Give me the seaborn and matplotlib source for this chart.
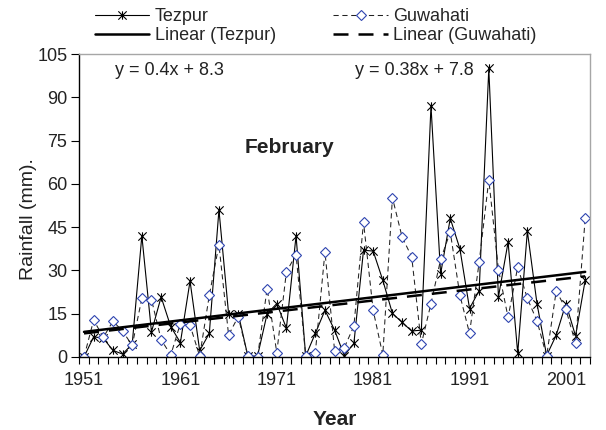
import numpy as np
import pandas as pd
import matplotlib
matplotlib.use("Agg")
import matplotlib.pyplot as plt
from matplotlib.path import Path
import seaborn as sns

# ---------------- data ----------------
years = list(range(1951, 2004))
tezpur = [0, 7, 6.5, 2.3, 1, 4.5, 42, 8.7, 20.8, 10.5,
          5, 26.3, 2.2, 8.2, 51, 15, 15, 0.3, 0.3, 15,
          18.5, 10, 42, 0.3, 8.2, 16.2, 9.3, 0.5, 4.7, 37,
          36.7, 26.6, 15.1, 12, 9, 9.3, 87, 28.8, 48, 37.5,
          16.8, 23, 100, 20.8, 39.8, 1.3, 43.6, 18.5, 0.5, 7.6,
          18.5, 7.3, 26.6]
guwahati = [0, 12.8, 6.8, 12.4, 9, 4, 20.3, 19.9, 6, 0.7,
            11.6, 11, 0.3, 21.4, 38.9, 7.6, 14, 0.3, 0, 23.7,
            1.5, 29.5, 35.5, 0.3, 1.5, 36.4, 2.2, 3.2, 10.7, 46.7,
            16.2, 0.7, 55.2, 41.6, 34.7, 4.5, 18.5, 33.8, 43.3, 21.4,
            8.2, 32.9, 61.4, 30.3, 13.7, 31.2, 20.3, 12.5, 0.3, 23,
            16.5, 4.7, 48]
tezpur_slope, tezpur_intercept = 0.4, 8.3
guwahati_slope, guwahati_intercept = 0.38, 7.8
y_ticks = [0, 15, 30, 45, 60, 75, 90, 105]
x_tick_years = [1951, 1961, 1971, 1981, 1991, 2001]
series_labels = ["Tezpur", "Guwahati", "Linear (Tezpur)", "Linear (Guwahati)"]

# ---------------- table ----------------
df = pd.DataFrame({"Year": years, "Tezpur": tezpur, "Guwahati": guwahati})
idx = np.arange(1, len(years) + 1)
df["TrendT"] = tezpur_slope * idx + tezpur_intercept
df["TrendG"] = guwahati_slope * idx + guwahati_intercept

sns.set_style("ticks")
plt.rcParams["font.family"] = ["Liberation Sans", "DejaVu Sans"]

fig = plt.figure(figsize=(6.06, 4.3), dpi=100)
ax = fig.add_axes([0.1307, 0.1698, 0.8429, 0.7046])

# Excel-like asterisk marker: X plus vertical bar
star = Path([(0, -1), (0, 1), (-1, -1), (1, 1), (-1, 1), (1, -1)],
            [Path.MOVETO, Path.LINETO] * 3)
blue = "#2f45b0"

sns.lineplot(data=df, x="Year", y="Tezpur", ax=ax, color="black", lw=0.8,
             marker=star, markersize=6, mec="black", mew=0.8,
             errorbar=None, label=series_labels[0], legend=False)
sns.lineplot(data=df, x="Year", y="Guwahati", ax=ax, color="#222222", lw=0.75,
             linestyle=(0, (5, 3.5)), marker="D", markersize=4.6,
             mfc="white", mec=blue, mew=0.8,
             errorbar=None, label=series_labels[1], legend=False)
sns.lineplot(data=df, x="Year", y="TrendT", ax=ax, color="black", lw=1.8,
             errorbar=None, label=series_labels[2], legend=False)
sns.lineplot(data=df, x="Year", y="TrendG", ax=ax, color="black", lw=1.8,
             linestyle=(0, (6, 4)),
             errorbar=None, label=series_labels[3], legend=False)

ax.set_xlim(1950.5, 2003.5)
ax.set_ylim(0, 105)
ax.set_yticks(y_ticks)
ax.set_xticks(x_tick_years)
ax.set_xticks(np.arange(1950.5, 2004, 1), minor=True)
ax.tick_params(axis="y", which="major", direction="out", length=5.5, width=0.8,
               pad=3, labelsize=13, colors="black", labelcolor="#222222")
ax.tick_params(axis="x", which="major", length=0, pad=11, labelsize=13,
               labelcolor="#222222")
ax.tick_params(axis="x", which="minor", direction="out", length=5, width=0.8,
               colors="black")

for s in ["top", "right"]:
    ax.spines[s].set_color("#a6a6a6")
    ax.spines[s].set_linewidth(1.0)
for s in ["left", "bottom"]:
    ax.spines[s].set_color("black")
    ax.spines[s].set_linewidth(1.0)

ax.set_ylabel("Rainfall (mm).", fontsize=14, color="#222222")
ax.yaxis.set_label_coords(-0.082, 0.455)
ax.set_xlabel("Year", fontsize=15, fontweight="bold", color="#222222")
ax.xaxis.set_label_coords(0.5, -0.176)

ax.text(0.070, 0.931, "y = 0.4x + 8.3", transform=ax.transAxes, fontsize=13,
        va="baseline", color="#222222")
ax.text(0.539, 0.931, "y = 0.38x + 7.8", transform=ax.transAxes, fontsize=13,
        va="baseline", color="#222222")
ax.text(0.324, 0.673, "February", transform=ax.transAxes, fontsize=15,
        fontweight="bold", va="baseline", color="#222222")

lines = ax.get_lines()
handles = [lines[0], lines[2], lines[1], lines[3]]
labels = [series_labels[0], series_labels[2], series_labels[1], series_labels[3]]
fig.legend(handles, labels, loc="upper left", bbox_to_anchor=(95 / 606, 1 - 8 / 430),
           ncol=2, frameon=False, fontsize=13, handlelength=3.0, handletextpad=0.3,
           columnspacing=3.2, labelspacing=0.12, borderpad=0, borderaxespad=0,
           numpoints=1)

fig.savefig("out.png", dpi=100)
